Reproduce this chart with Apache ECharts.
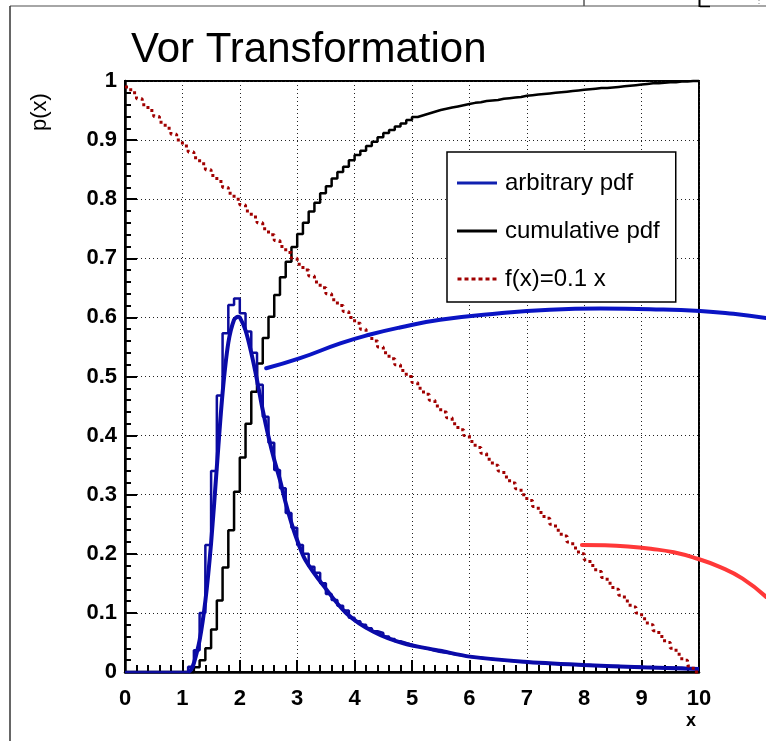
<!DOCTYPE html>
<html>
<head>
<meta charset="utf-8">
<script src="https://cdn.jsdelivr.net/npm/echarts@6/dist/echarts.min.js"></script>
<style>
  html, body { margin: 0; padding: 0; background: #fff; }
  #chart { width: 766px; height: 741px; }
</style>
</head>
<body>
<div id="chart"></div>
<script>
// Histogram binning: 100 bins of width 0.1 on [0, 10]
const binWidth = 0.1;
const xTicks = [0, 1, 2, 3, 4, 5, 6, 7, 8, 9, 10];
const yTicks = [0, 0.1, 0.2, 0.3, 0.4, 0.5, 0.6, 0.7, 0.8, 0.9, 1];

// Sampled pdf histogram (bin contents)
const pdfHist = [
  0, 0, 0, 0, 0, 0, 0, 0, 0, 0,
  0, 0.009, 0.037, 0.100, 0.215, 0.340, 0.468, 0.573, 0.621, 0.632,
  0.607, 0.576, 0.540, 0.486, 0.432, 0.388, 0.342, 0.311, 0.269, 0.244,
  0.215, 0.200, 0.178, 0.168, 0.150, 0.132, 0.122, 0.112, 0.104, 0.092,
  0.086, 0.080, 0.074, 0.069, 0.066, 0.060, 0.056, 0.052, 0.049, 0.046,
  0.043, 0.041, 0.039, 0.036, 0.034, 0.033, 0.031, 0.029, 0.028, 0.026,
  0.025, 0.024, 0.023, 0.022, 0.021, 0.020, 0.019, 0.018, 0.018, 0.017,
  0.016, 0.016, 0.015, 0.015, 0.014, 0.013, 0.013, 0.013, 0.012, 0.012,
  0.012, 0.011, 0.011, 0.010, 0.010, 0.010, 0.009, 0.009, 0.009, 0.009,
  0.008, 0.008, 0.008, 0.007, 0.007, 0.007, 0.007, 0.006, 0.006, 0.006
];

// Cumulative histogram (normalised to 1)
const cdfHist = [
  0, 0, 0, 0, 0, 0, 0, 0, 0, 0,
  0, 0, 0.008, 0.020, 0.040, 0.072, 0.121, 0.177, 0.240, 0.305,
  0.363, 0.420, 0.474, 0.522, 0.565, 0.601, 0.638, 0.668, 0.694, 0.719,
  0.741, 0.760, 0.779, 0.794, 0.810, 0.822, 0.835, 0.846, 0.855, 0.866,
  0.875, 0.882, 0.890, 0.897, 0.905, 0.912, 0.917, 0.923, 0.928, 0.934,
  0.939, 0.942, 0.945, 0.948, 0.951, 0.953, 0.955, 0.957, 0.959, 0.961,
  0.963, 0.964, 0.966, 0.967, 0.968, 0.970, 0.971, 0.972, 0.973, 0.975,
  0.976, 0.977, 0.978, 0.979, 0.980, 0.981, 0.982, 0.983, 0.984, 0.985,
  0.986, 0.987, 0.988, 0.988, 0.989, 0.990, 0.991, 0.992, 0.993, 0.994,
  0.995, 0.996, 0.996, 0.997, 0.998, 0.998, 0.999, 0.999, 1.000, 1.000
];

// Linear reference histogram
const linHist = [
  0.99, 0.98, 0.97, 0.96, 0.95, 0.94, 0.93, 0.92, 0.91, 0.90,
  0.89, 0.88, 0.87, 0.86, 0.85, 0.84, 0.83, 0.82, 0.81, 0.80,
  0.79, 0.78, 0.77, 0.76, 0.75, 0.74, 0.73, 0.72, 0.71, 0.70,
  0.69, 0.68, 0.67, 0.66, 0.65, 0.64, 0.63, 0.62, 0.61, 0.60,
  0.59, 0.58, 0.57, 0.56, 0.55, 0.54, 0.53, 0.52, 0.51, 0.50,
  0.49, 0.48, 0.47, 0.46, 0.45, 0.44, 0.43, 0.42, 0.41, 0.40,
  0.39, 0.38, 0.37, 0.36, 0.35, 0.34, 0.33, 0.32, 0.31, 0.30,
  0.29, 0.28, 0.27, 0.26, 0.25, 0.24, 0.23, 0.22, 0.21, 0.20,
  0.19, 0.18, 0.17, 0.16, 0.15, 0.14, 0.13, 0.12, 0.11, 0.10,
  0.09, 0.08, 0.07, 0.06, 0.05, 0.04, 0.03, 0.02, 0.01, 0.00
];

// Smooth pdf curve
const pdfCurveX = [1.10, 1.15, 1.20, 1.30, 1.40, 1.50, 1.60, 1.70, 1.80, 1.90, 1.97, 2.00, 2.10, 2.20, 2.30, 2.40, 2.50, 2.60, 2.70, 2.80, 2.90, 3.00, 3.14, 3.45, 3.86, 4.33, 4.85, 5.49, 6.01, 6.94, 7.98, 9.00, 10.00];
const pdfCurveY = [0.000, 0.004, 0.015, 0.054, 0.120, 0.218, 0.347, 0.472, 0.557, 0.596, 0.601, 0.600, 0.578, 0.540, 0.494, 0.443, 0.398, 0.359, 0.325, 0.286, 0.252, 0.223, 0.190, 0.147, 0.099, 0.068, 0.0485, 0.036, 0.026, 0.0175, 0.012, 0.008, 0.005];

// Blue arc running past the frame
const blueArcX = [2.46, 3.05, 3.75, 4.27, 4.79, 5.49, 6.53, 7.40, 8.28, 9.15, 10.02, 10.60, 11.17];
const blueArcY = [0.514, 0.531, 0.556, 0.571, 0.583, 0.596, 0.607, 0.613, 0.615, 0.614, 0.611, 0.606, 0.599];

// Red arc running past the frame
const redArcX = [7.96, 8.36, 8.76, 9.16, 9.56, 9.96, 10.36, 10.76, 11.17];
const redArcY = [0.2150, 0.2145, 0.2125, 0.2085, 0.2025, 0.1920, 0.1780, 0.1580, 0.1270];

const FONT = 'Liberation Sans';

// Turn bin contents into step points (left edge of each bin + closing edge)
function histPoints(vals) {
  const pts = vals.map((v, i) => [i * binWidth, v]);
  pts.push([vals.length * binWidth, vals[vals.length - 1]]);
  return pts;
}
function zipXY(xs, ys) { return xs.map((x, i) => [x, ys[i]]); }

// Legend glyphs: a solid bar and a dashed bar
const solidIcon = 'path://M0,0H40V3H0Z';
const dashedIcon = 'path://M0,0H4V3H0Z M7,0H11V3H7Z M14,0H18V3H14Z M21,0H25V3H21Z M28,0H32V3H28Z M35,0H39V3H35Z';

const chart = echarts.init(document.getElementById('chart'), null, { renderer: 'canvas' });

const PLOT_W = 574;               // frame width in px (0..10)
const WIDE_W = 766 - 125;         // drawing width reaching the page edge
const WIDE_MAX = 10 * WIDE_W / PLOT_W;

const hiddenAxis = {
  show: false, axisLine: { show: false }, axisTick: { show: false },
  axisLabel: { show: false }, splitLine: { show: false }
};

const option = {
  animation: false,
  backgroundColor: '#fff',
  title: {
    text: 'Vor Transformation',
    left: 126, top: 24,
    textStyle: { fontFamily: FONT, fontSize: 42, fontWeight: 'normal', color: '#000' }
  },
  grid: [
    { left: 125, top: 81, width: PLOT_W, height: 591,
      show: true, borderColor: '#000', borderWidth: 2, backgroundColor: 'transparent' },
    { left: 125, top: 81, width: WIDE_W, height: 591, show: false }
  ],
  legend: {
    orient: 'vertical', left: 447, top: 152,
    padding: [19, 16, 11, 10], itemGap: 24, itemWidth: 40, itemHeight: 3,
    backgroundColor: '#fff', borderColor: '#000', borderWidth: 1.5, borderRadius: 0,
    textStyle: { fontFamily: FONT, fontSize: 24, lineHeight: 24, color: '#000', padding: [0, 0, 0, 3] },
    data: [
      { name: 'arbitrary pdf', icon: solidIcon, itemStyle: { color: '#1020b0' } },
      { name: 'cumulative pdf', icon: solidIcon, itemStyle: { color: '#000' } },
      { name: 'f(x)=0.1 x', icon: dashedIcon, itemStyle: { color: '#a00000' } }
    ]
  },
  xAxis: [
    {
      type: 'value', gridIndex: 0, min: xTicks[0], max: xTicks[xTicks.length - 1], interval: 1,
      axisLine: { show: true, onZero: false, lineStyle: { color: '#000', width: 2.5 } },
      axisTick: { show: true, inside: true, length: 12, lineStyle: { color: '#000', width: 2 } },
      minorTick: { show: true, splitNumber: 5, length: 7, lineStyle: { color: '#000', width: 2 } },
      axisLabel: { margin: 16, fontFamily: FONT, fontSize: 22, fontWeight: 'bold', color: '#000',
        formatter: v => String(v) },
      splitLine: { show: true, lineStyle: { color: '#222', type: [1, 3], width: 1 } }
    },
    Object.assign({ type: 'value', gridIndex: 1, min: 0, max: WIDE_MAX }, hiddenAxis)
  ],
  yAxis: [
    {
      type: 'value', gridIndex: 0, min: yTicks[0], max: yTicks[yTicks.length - 1], interval: 0.1,
      axisLine: { show: true, onZero: false, lineStyle: { color: '#000', width: 2.5 } },
      axisTick: { show: true, inside: true, length: 12, lineStyle: { color: '#000', width: 2 } },
      minorTick: { show: true, splitNumber: 5, length: 6, lineStyle: { color: '#000', width: 2 } },
      axisLabel: { margin: 8, fontFamily: FONT, fontSize: 22, fontWeight: 'bold', color: '#000',
        formatter: v => (v === 0 ? '0' : v === 1 ? '1' : v.toFixed(1)) },
      splitLine: { show: true, lineStyle: { color: '#222', type: [1, 3], width: 1 } }
    },
    Object.assign({ type: 'value', gridIndex: 1, min: 0, max: 1 }, hiddenAxis)
  ],
  series: [
    {
      name: 'cumulative pdf', type: 'line', step: 'end', symbol: 'none',
      data: histPoints(cdfHist), clip: false, z: 2,
      lineStyle: { color: '#000', width: 2.5 }, itemStyle: { color: '#000' }
    },
    {
      name: 'pdf histogram', type: 'line', step: 'end', symbol: 'none',
      data: histPoints(pdfHist), clip: false, z: 3,
      lineStyle: { color: '#0c0c9c', width: 2.5 }, itemStyle: { color: '#0c0c9c' }
    },
    {
      name: 'arbitrary pdf', type: 'line', smooth: 0.3, symbol: 'none',
      data: zipXY(pdfCurveX, pdfCurveY), clip: false, z: 4,
      lineStyle: { color: '#0a0aa8', width: 4 }, itemStyle: { color: '#1020b0' }
    },
    {
      name: 'f(x)=0.1 x', type: 'line', step: 'end', symbol: 'none',
      data: histPoints(linHist), clip: false, z: 5,
      lineStyle: { color: '#a00000', width: 3, type: [3, 4] }, itemStyle: { color: '#a00000' }
    },
    {
      name: 'arc blue', type: 'line', xAxisIndex: 1, yAxisIndex: 1, smooth: true, symbol: 'none',
      data: zipXY(blueArcX, blueArcY), clip: false, z: 6,
      lineStyle: { color: '#0a14c4', width: 4, cap: 'round', join: 'round' }
    },
    {
      name: 'arc red', type: 'line', xAxisIndex: 1, yAxisIndex: 1, smooth: true, symbol: 'none',
      data: zipXY(redArcX, redArcY), clip: false, z: 6,
      lineStyle: { color: '#ff3838', width: 4, cap: 'round', join: 'round' }
    }
  ],
  graphic: [
    // pad border lines
    { type: 'line', shape: { x1: 10, y1: 6, x2: 766, y2: 6 }, style: { stroke: '#888', lineWidth: 1.5 } },
    { type: 'line', shape: { x1: 10, y1: 6, x2: 10, y2: 741 }, style: { stroke: '#333', lineWidth: 1.5 } },
    { type: 'line', shape: { x1: 584, y1: 0, x2: 584, y2: 6 }, style: { stroke: '#555', lineWidth: 1.5 } },
    { type: 'line', shape: { x1: 699.5, y1: 0, x2: 699.5, y2: 7 }, style: { stroke: '#000', lineWidth: 2 } },
    { type: 'line', shape: { x1: 700, y1: 6.5, x2: 710, y2: 6.5 }, style: { stroke: '#000', lineWidth: 1.5 } },
    { type: 'line', shape: { x1: 759, y1: 0, x2: 759, y2: 5 }, style: { stroke: '#888', lineWidth: 1, lineDash: [1, 2] } },
    // axis titles
    { type: 'text', left: 686, top: 712,
      style: { text: 'x', font: 'bold 18px "Liberation Sans"', fill: '#000' } },
    { type: 'text', x: 29, y: 131, rotation: Math.PI / 2,
      style: { text: 'p(x)', font: '22px "Liberation Sans"', fill: '#000', textAlign: 'left', textVerticalAlign: 'top' } }
  ]
};

chart.setOption(option);
</script>
</body>
</html>
